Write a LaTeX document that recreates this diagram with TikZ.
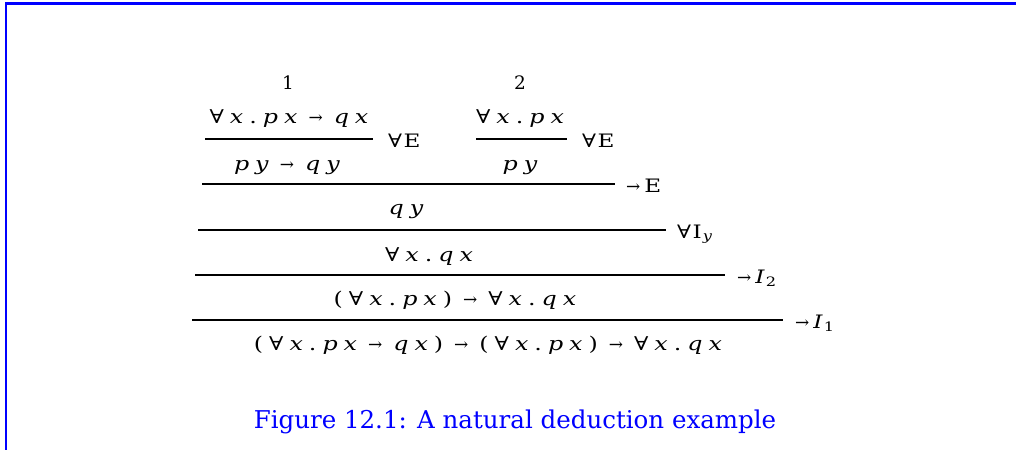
\documentclass[tikz,border=0pt]{standalone}
\usepackage{fontspec}
\setmainfont{DejaVu Serif}
\newfontfamily\ndmath{DejaVu Serif}[FakeStretch=1.25]
\usepackage{xcolor}
\definecolor{ndblue}{RGB}{0,0,255}
\usetikzlibrary{positioning}
\newlength\gsp \setlength\gsp{6pt}
\newlength\asp \setlength\asp{11pt}
\newcommand{\mv}[1]{\textit{#1}\kern\gsp}
\newcommand{\all}{∀\kern\gsp}
\newcommand{\dt}{.\kern\gsp}
\newcommand{\lp}{(\kern\gsp}
\newcommand{\rp}{)\kern\gsp}
\newcommand{\arr}{{\normalfont\fontsize{17}{20}\selectfont →}}
\newcommand{\imp}{\unkern\kern\asp\arr\kern\asp}
\tikzset{
  fml/.style={anchor=base, inner sep=0pt, font=\ndmath\fontsize{19}{24}\selectfont},
  rulename/.style={anchor=base west, inner sep=0pt, font=\ndmath\fontsize{18.5}{22}\selectfont},
  infer/.style={line width=1.8pt},
}
\begin{document}
\begin{tikzpicture}[x=1pt,y=-1pt]
      \useasboundingbox (0,0) rectangle (1016,450);
      \draw[ndblue, line width=3pt] (5,3.5) -- (1016,3.5);
      \draw[ndblue, line width=2pt] (6,2) -- (6,450);
      % discharged assumptions
      \node[fml, font=\fontsize{18.5}{22}\selectfont] (hyp1) at (288,89) {1};
      \node[fml, font=\fontsize{18.5}{22}\selectfont] (hyp2) at (520,89) {2};
      \node[fml] (prem1) at (289,123) {\all\mv{x}\dt\mv{p}\mv{x}\imp\mv{q}\mv{x}\unkern};
      \node[fml] (prem2) at (520,123) {\all\mv{x}\dt\mv{p}\mv{x}\unkern};
      \node[fml] (inst1) at (287,170) {\mv{p}\mv{y}\imp\mv{q}\mv{y}\unkern};
      \node[fml] (inst2) at (520,170) {\mv{p}\mv{y}\unkern};
      \node[fml] (mp) at (406,214) {\mv{q}\mv{y}\unkern};
      \node[fml] (gen) at (429,261) {\all\mv{x}\dt\mv{q}\mv{x}\unkern};
      \node[fml] (imp2) at (455,305) {\lp\all\mv{x}\dt\mv{p}\mv{x}\rp\imp\all\mv{x}\dt\mv{q}\mv{x}\unkern};
      \node[fml] (imp1) at (488,350)
           {\lp\all\mv{x}\dt\mv{p}\mv{x}\imp\mv{q}\mv{x}\rp\imp\lp\all\mv{x}\dt\mv{p}\mv{x}\rp\imp\all\mv{x}\dt\mv{q}\mv{x}\unkern};
      % inference lines
      \coordinate (r1l) at (205,139); \coordinate (r1r) at (373,139);
      \coordinate (r2l) at (476,139); \coordinate (r2r) at (567,139);
      \coordinate (r3l) at (202,184); \coordinate (r3r) at (615,184);
      \coordinate (r4l) at (198,230); \coordinate (r4r) at (666,230);
      \coordinate (r5l) at (195,275); \coordinate (r5r) at (725,275);
      \coordinate (r6l) at (192,320); \coordinate (r6r) at (783,320);
      \draw[infer] (r1l) -- (r1r);
      \draw[infer] (r2l) -- (r2r);
      \draw[infer] (r3l) -- (r3r);
      \draw[infer] (r4l) -- (r4r);
      \draw[infer] (r5l) -- (r5r);
      \draw[infer] (r6l) -- (r6r);
      \node[rulename] (lab1) at ([xshift=15pt,yshift=-8pt]r1r) {∀\kern1.5pt E};
      \node[rulename] (lab2) at ([xshift=15pt,yshift=-8pt]r2r) {∀\kern1.5pt E};
      \node[rulename] (lab3) at ([xshift=11pt,yshift=-8pt]r3r) {\arr\kern4pt E};
      \node[rulename] (lab4) at ([xshift=11pt,yshift=-8pt]r4r) {∀\kern1.5pt I\kern1pt\textsubscript{\textit{y}}};
      \node[rulename] (lab5) at ([xshift=12pt,yshift=-8pt]r5r) {\arr\kern4pt\textit{I}\kern1pt\textsubscript{2}};
      \node[rulename] (lab6) at ([xshift=12pt,yshift=-8pt]r6r) {\arr\kern4pt\textit{I}\kern1pt\textsubscript{1}};
      \node[font=\fontsize{24.5}{28}\selectfont, text=ndblue, anchor=base] (caption) at (515,428)
           {Figure 12.1: A natural deduction example};
    \end{tikzpicture}
\end{document}
